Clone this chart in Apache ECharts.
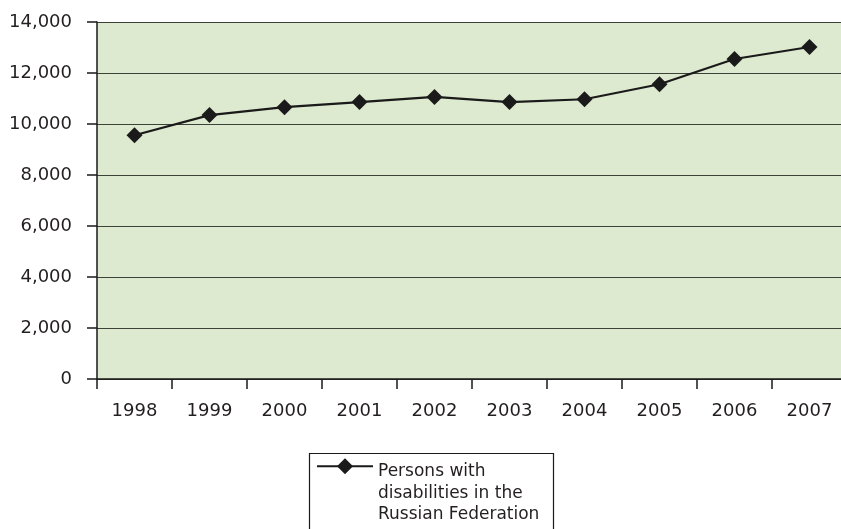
<!DOCTYPE html>
<html>
<head>
<meta charset="utf-8">
<script src="https://cdn.jsdelivr.net/npm/echarts@6/dist/echarts.min.js"></script>
<style>
  html, body { margin: 0; padding: 0; background: #fff; }
  #main { width: 841px; height: 529px; }
</style>
</head>
<body>
<div id="main"></div>
<script>
// data
const years = ['1998', '1999', '2000', '2001', '2002', '2003', '2004', '2005', '2006', '2007']
const persons = [9560, 10350, 10660, 10860, 11060, 10860, 10970, 11560, 12550, 13020]
const seriesName = 'Persons with disabilities in the Russian Federation'
const legendLines = ['Persons with', 'disabilities in the', 'Russian Federation']

const chart = echarts.init(document.getElementById('main'))
const font = 'DejaVu Sans, Verdana, sans-serif'

const option = {
  animation: false,
  backgroundColor: '#ffffff',
  grid: {
    left: 97,
    width: 750,
    top: 22,
    bottom: 150,
    outerBoundsMode: 'none',
    show: true,
    backgroundColor: '#deeacf',
    borderWidth: 0
  },
  xAxis: {
    type: 'category',
    data: years,
    boundaryGap: true,
    axisLine: { lineStyle: { color: '#1a1a1a', width: 1.5 } },
    axisTick: { show: true, length: 10, lineStyle: { color: '#1a1a1a', width: 1.5 } },
    axisLabel: { color: '#231f20', fontSize: 18, fontFamily: font, margin: 23 },
    splitLine: { show: false }
  },
  yAxis: {
    type: 'value',
    min: 0,
    max: 14000,
    interval: 2000,
    axisLine: { show: true, lineStyle: { color: '#1a1a1a', width: 1.5 } },
    axisTick: { show: true, length: 10, lineStyle: { color: '#1a1a1a', width: 1.5 } },
    axisLabel: {
      color: '#231f20',
      fontSize: 18,
      fontFamily: font,
      margin: 25,
      formatter: v => v.toLocaleString('en-US')
    },
    splitLine: { show: true, lineStyle: { color: '#3d4239', width: 1.2 } }
  },
  legend: {
    left: 316,
    top: 429,
    itemWidth: 56,
    itemHeight: 20,
    itemGap: 0,
    padding: 0,
    data: [seriesName],
    // a tall blank first line keeps the icon level with "Persons with"
    formatter: () => '{s| }\n' + legendLines.map(l => '{a|' + l + '}').join('\n'),
    textStyle: {
      color: '#231f20',
      fontSize: 17,
      fontFamily: font,
      rich: {
        s: { lineHeight: 54, fontSize: 10 },
        a: { lineHeight: 21.5, fontSize: 17, fontFamily: font, color: '#231f20' }
      }
    }
  },
  graphic: [{
    type: 'rect',
    left: 307,
    top: 451,
    shape: { width: 244, height: 120 },
    style: { fill: 'none', stroke: '#1a1a1a', lineWidth: 1.2 },
    z: 100
  }],
  series: [{
    name: seriesName,
    type: 'line',
    data: persons,
    symbol: 'diamond',
    symbolSize: 16,
    lineStyle: { color: '#1a1a1a', width: 2.2 },
    itemStyle: { color: '#1a1a1a' }
  }]
}

option && chart.setOption(option)
</script>
</body>
</html>
